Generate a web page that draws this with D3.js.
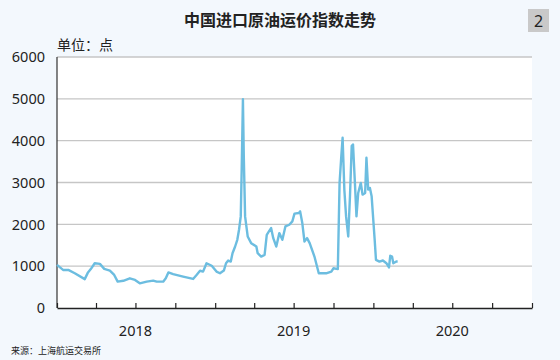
<!DOCTYPE html>
<html><head><meta charset="utf-8">
<script src="https://cdn.jsdelivr.net/npm/d3@7"></script>
<style>
html,body{margin:0;padding:0;background:#f3f8fd;}
svg{display:block;}
</style></head>
<body>
<script>
const title = "中国进口原油运价指数走势";
const unitLabel = "单位：点";
const sourceLabel = "来源：上海航运交易所";
const badge = "2";
const yTicks = [0, 1000, 2000, 3000, 4000, 5000, 6000];
const yearLabels = ["2018", "2019", "2020"];
const dates = [
"2018-01-01","2018-01-15","2018-01-27","2018-02-11","2018-03-06","2018-03-13","2018-03-20","2018-03-29",
"2018-04-10","2018-04-20","2018-05-03","2018-05-13","2018-05-21","2018-06-03","2018-06-18","2018-06-30",
"2018-07-11","2018-07-27","2018-08-11","2018-08-19","2018-09-03","2018-09-09","2018-09-15","2018-09-26",
"2018-10-19","2018-11-11","2018-11-19","2018-11-27","2018-12-04","2018-12-12","2018-12-24","2019-01-04",
"2019-01-12","2019-01-21","2019-01-26","2019-01-31","2019-02-06","2019-02-10","2019-02-16","2019-02-21",
"2019-02-25","2019-03-01","2019-03-03","2019-03-06","2019-03-08","2019-03-11","2019-03-14","2019-03-17",
"2019-03-25","2019-04-06","2019-04-09","2019-04-17","2019-04-25","2019-04-30","2019-05-05","2019-05-10",
"2019-05-15","2019-05-22","2019-05-29","2019-06-05","2019-06-12","2019-06-21","2019-06-28","2019-07-03",
"2019-07-13","2019-07-16","2019-07-21","2019-07-26","2019-08-01","2019-08-07","2019-08-18","2019-08-28",
"2019-09-14","2019-09-26","2019-10-01","2019-10-11","2019-10-15","2019-10-19","2019-10-22","2019-10-26",
"2019-10-30","2019-11-04","2019-11-08","2019-11-12","2019-11-15","2019-11-19","2019-11-23","2019-11-27",
"2019-12-03","2019-12-07","2019-12-13","2019-12-16","2019-12-20","2019-12-24","2019-12-28","2020-01-04",
"2020-01-07","2020-01-15","2020-01-23","2020-01-31","2020-02-06","2020-02-09","2020-02-13","2020-02-16",
"2020-02-23","2020-02-26"];
const values = [
1030,910,910,830,690,840,930,1070,
1055,935,895,790,630,650,710,670,
590,630,655,630,630,710,850,810,
750,695,790,890,870,1070,1010,870,
830,895,1070,1135,1110,1310,1470,1630,
1870,2190,3230,4990,3630,2190,1950,1710,
1550,1470,1310,1230,1270,1750,1830,1910,
1670,1470,1790,1630,1950,1990,2070,2255,
2270,2310,2030,1590,1670,1550,1230,830,
830,870,950,930,2990,3630,4070,2830,
2190,1710,2670,3870,3910,3070,2190,2750,
2990,2710,2750,3590,2830,2870,2670,1630,
1150,1110,1135,1070,970,1250,1230,1070,
1110,1110];

const W = 560, H = 360;
const M = {left: 57, right: 532, top: 57, bottom: 308};
const parse = d3.timeParse("%Y-%m-%d");
const data = dates.map((d, i) => ({date: parse(d), value: values[i]}));

const svg = d3.select("body").append("svg").attr("width", W).attr("height", H);
svg.append("rect").attr("width", W).attr("height", H).attr("fill", "#f3f8fd");

const x = d3.scaleTime().domain([new Date(2018,0,1), new Date(2021,0,1)]).range([M.left, M.right]);
const y = d3.scaleLinear().domain([0, 6000]).range([M.bottom, M.top]);

svg.append("rect").attr("x", M.left).attr("y", M.top).attr("width", M.right - M.left)
  .attr("height", M.bottom - M.top).attr("fill", "#ffffff");

// gridlines
svg.append("g").selectAll("line").data(yTicks.filter(v => v > 0)).join("line")
  .attr("x1", M.left).attr("x2", M.right).attr("y1", d => y(d)).attr("y2", d => y(d))
  .attr("stroke", "#c6c6c6").attr("stroke-width", 1.3);

// y labels
svg.append("g").selectAll("text").data(yTicks).join("text")
  .attr("x", 45).attr("y", d => y(d)).attr("dy", "0.36em").attr("text-anchor", "end")
  .attr("font-family", "'Noto Sans', sans-serif").attr("font-size", 14.5).attr("fill", "#222")
  .text(d => d);

// left axis line
svg.append("line").attr("x1", M.left).attr("x2", M.left).attr("y1", M.top).attr("y2", M.bottom)
  .attr("stroke", "#333").attr("stroke-width", 1.2);

// bottom axis
const xAxis = d3.axisBottom(x).ticks(d3.timeMonth.every(3)).tickSizeInner(-5).tickSizeOuter(0).tickFormat("");
const gx = svg.append("g").attr("transform", `translate(0,${M.bottom})`).call(xAxis);
gx.select(".domain").attr("stroke", "#222").attr("stroke-width", 1.5);
gx.selectAll(".tick line").attr("stroke", "#222").attr("stroke-width", 1.2);

// year labels
svg.append("g").selectAll("text").data(yearLabels).join("text")
  .attr("x", d => x(new Date(+d, 6, 1))).attr("y", 336).attr("text-anchor", "middle")
  .attr("font-family", "'Noto Sans', sans-serif").attr("font-size", 14.5).attr("fill", "#222")
  .text(d => d);

// line
const line = d3.line().x(d => x(d.date)).y(d => y(d.value)).curve(d3.curveLinear);
svg.append("path").datum(data).attr("d", line).attr("fill", "none")
  .attr("stroke", "#6cbde0").attr("stroke-width", 2.4).attr("stroke-linejoin", "round");

// title
svg.append("text").attr("x", 280).attr("y", 26).attr("text-anchor", "middle")
  .attr("font-family", "'Noto Sans CJK SC', sans-serif").attr("font-weight", "bold")
  .attr("font-size", 16).attr("fill", "#222").text(title);

// unit
svg.append("text").attr("x", 57).attr("y", 50)
  .attr("font-family", "'Noto Sans CJK SC', sans-serif").attr("font-size", 14).attr("fill", "#222")
  .text(unitLabel);

// badge
svg.append("rect").attr("x", 528).attr("y", 9).attr("width", 21).attr("height", 23).attr("fill", "#c9c9c9");
svg.append("text").attr("x", 538.5).attr("y", 26.5).attr("text-anchor", "middle")
  .attr("font-family", "'Noto Sans', sans-serif").attr("font-size", 16).attr("fill", "#222").text(badge);

// source
svg.append("text").attr("x", 11).attr("y", 354)
  .attr("font-family", "'Noto Sans CJK SC', sans-serif").attr("font-size", 9).attr("fill", "#222")
  .text(sourceLabel);
</script>
</body></html>
